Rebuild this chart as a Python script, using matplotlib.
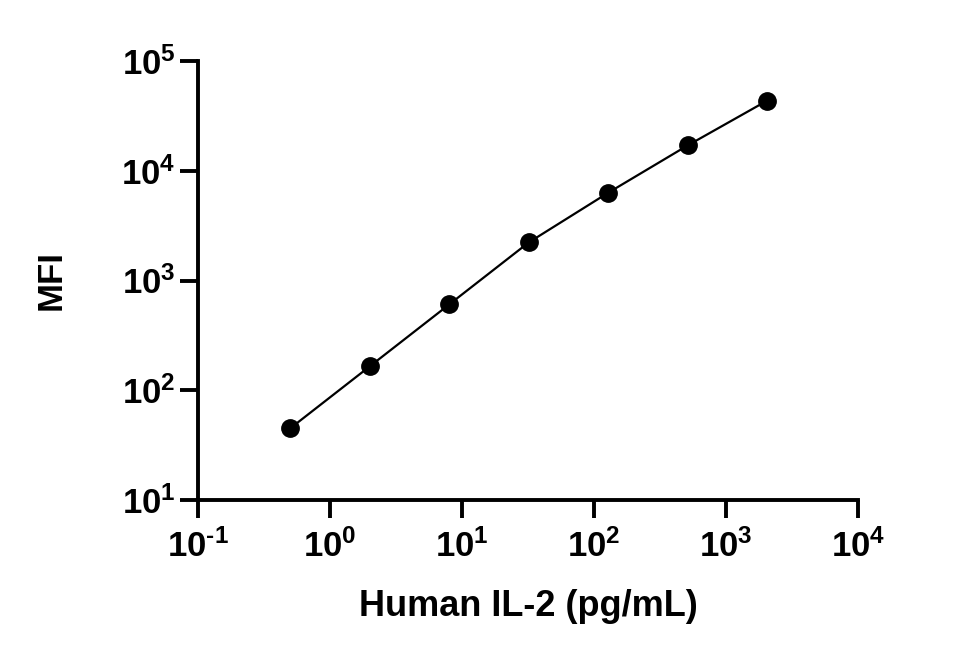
import math
import matplotlib
matplotlib.use("Agg")
import matplotlib.pyplot as plt
from matplotlib.ticker import FixedLocator, FuncFormatter, NullLocator

# data (4-fold dilutions)
il2_conc = [0.5, 2, 8, 32, 128, 512, 2048]
mfi = [45, 165, 605, 2220, 6300, 17000, 43500]

x_ticks = [1e-1, 1e0, 1e1, 1e2, 1e3, 1e4]
y_ticks = [1e1, 1e2, 1e3, 1e4, 1e5]

plt.rcParams['font.family'] = ['Liberation Sans', 'DejaVu Sans']
plt.rcParams['font.weight'] = 'bold'
plt.rcParams['mathtext.fontset'] = 'custom'
plt.rcParams['mathtext.rm'] = 'Liberation Sans:bold'
plt.rcParams['mathtext.bf'] = 'Liberation Sans:bold'
plt.rcParams['mathtext.it'] = 'Liberation Sans:bold'


def pow10(v, pos):
    e = int(round(math.log10(v)))
    if e < 0:
        return r'$\mathbf{10^{\text{-}%d}}$' % (-e)
    return r'$\mathbf{10^{%d}}$' % e


fig = plt.figure(figsize=(9.63, 6.6), dpi=100)
ax = fig.add_axes([198 / 963, 1 - 500 / 660, 660 / 963, 439 / 660])

ax.plot(il2_conc, mfi, color='black', lw=1.6, zorder=2)
ax.plot(il2_conc, mfi, 'o', color='black', ms=12.5, zorder=3)

ax.set_xscale('log')
ax.set_yscale('log')
ax.set_xlim(1e-1, 1e4)
ax.set_ylim(1e1, 1e5)

ax.xaxis.set_major_locator(FixedLocator(x_ticks))
ax.yaxis.set_major_locator(FixedLocator(y_ticks))
ax.xaxis.set_minor_locator(NullLocator())
ax.yaxis.set_minor_locator(NullLocator())
ax.xaxis.set_major_formatter(FuncFormatter(pow10))
ax.yaxis.set_major_formatter(FuncFormatter(pow10))

for side in ['top', 'right']:
    ax.spines[side].set_visible(False)
for side in ['left', 'bottom']:
    ax.spines[side].set_linewidth(2.8)

ax.tick_params(axis='both', which='major', length=13, width=2.8, labelsize=25, color='black')
ax.tick_params(axis='x', pad=8)
ax.tick_params(axis='y', pad=3)

ax.set_xlabel('Human IL-2 (pg/mL)', fontsize=26, fontweight='bold', labelpad=18)
ax.set_ylabel('MFI', fontsize=25, fontweight='bold', labelpad=39)

fig.savefig('out.png', dpi=100)
